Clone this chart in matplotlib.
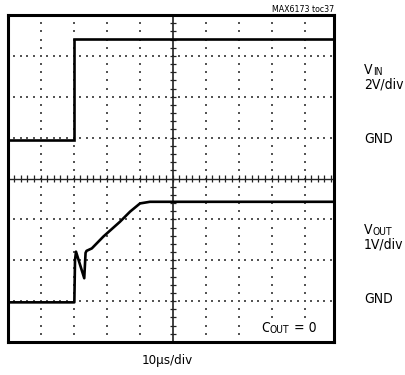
import numpy as np
import matplotlib
matplotlib.use("Agg")
import matplotlib.pyplot as plt
from matplotlib import font_manager

# pick a condensed sans if one is installed, else Liberation Sans
FONT = "Liberation Sans"
for f in font_manager.fontManager.ttflist:
    n = f.name
    if ("Narrow" in n or "Condensed" in n) and "Mono" not in n and "Serif" not in n:
        FONT = n
        break
    if str(f.stretch) in ("condensed", "semi-condensed", "extra-condensed") and "Mono" not in n:
        FONT = n
        break
plt.rcParams['font.family'] = [FONT, 'DejaVu Sans']
STRETCH = 'condensed'

# Data in scope divisions (x: 10 us/div, y: divisions of the screen)
vin_t = [0.0, 2.0, 2.0, 9.89]
vin_v = [4.94, 4.94, 7.41, 7.41]

vout_t = [0.0, 2.02, 2.04, 2.07, 2.32, 2.36, 2.39, 2.55, 2.90, 3.40, 3.71, 4.01, 4.31, 9.89]
vout_v = [0.97, 0.97, 2.0, 2.21, 1.56, 2.18, 2.23, 2.29, 2.58, 2.94, 3.19, 3.39, 3.43, 3.43]

NX_VIS, NX, NY = 9.89, 10, 8

W, H = 406, 375
fig = plt.figure(figsize=(W/100, H/100), dpi=100)
L, R, T, B = 7.7, 334, 15, 342
ax = fig.add_axes([L/W, 1-B/H, (R-L)/W, (B-T)/H])
ax.set_xlim(0, NX_VIS)
ax.set_ylim(0, NY)
ax.set_xticks([]); ax.set_yticks([])
for s in ax.spines.values():
    s.set_linewidth(2.2)
    s.set_color('black')
    s.set_zorder(5)

# dotted graticule
dot_kw = dict(s=2.2, c='#555555', marker='s', linewidths=0, zorder=1)
sub = np.arange(0, NX_VIS, 0.2)
for gy in range(1, NY):
    if gy == NY // 2:
        continue
    ax.scatter(sub, np.full_like(sub, gy), **dot_kw)
subv = np.arange(0, NY + 0.001, 0.2)
for gx in range(1, NX):
    if gx == NX // 2:
        continue
    ax.scatter(np.full_like(subv, gx), subv, **dot_kw)

# center axes with small ticks
ax.axhline(NY/2, color='#222222', lw=1.0, zorder=2)
ax.axvline(NX/2, color='#222222', lw=1.2, zorder=2)
tk = np.arange(0, NX_VIS, 0.2)
ax.vlines(tk, NY/2 - 0.075, NY/2 + 0.075, color='#222222', lw=0.9, zorder=2)
tkv = np.arange(0, NY + 0.001, 0.2)
ax.hlines(tkv, NX/2 - 0.09, NX/2 + 0.09, color='#222222', lw=0.9, zorder=2)

# traces
ax.plot(vin_t, vin_v, color='black', lw=1.9, zorder=3, solid_joinstyle='miter')
ax.plot(vout_t, vout_v, color='black', lw=1.9, zorder=3)

fig.canvas.draw()
rend = fig.canvas.get_renderer()

def ft(x, y, s, size=10, ha='left', va='baseline', **kw):
    return fig.text(x/W, 1 - y/H, s, fontsize=size, ha=ha, va=va,
                    fontstretch=STRETCH, **kw)

def subt(x, y, main, subs, size=10, subsize=7.5, drop=0.8, after=None, bg=False):
    kw = dict(bbox=dict(facecolor='white', edgecolor='none', pad=0.5)) if bg else {}
    t = ft(x, y, main, size=size, **kw)
    bb = t.get_window_extent(renderer=rend)
    s = fig.text(bb.x1/W + 0.2/W, 1 - (y + drop)/H, subs, fontsize=subsize,
                 ha='left', va='baseline', fontstretch=STRETCH, **kw)
    if after is not None:
        sb = s.get_window_extent(renderer=rend)
        fig.text(sb.x1/W, 1 - y/H, after, fontsize=size, ha='left', va='baseline',
                 fontstretch=STRETCH, **kw)

ft(334, 11.7, "MAX6173 toc37", size=6.3, ha='right')
subt(364, 74.5, "V", "IN")
ft(364, 89.0, "2V/div")
ft(364, 143.3, "GND")
subt(364, 234.5, "V", "OUT")
ft(364, 249.0, "1V/div")
ft(364, 303.3, "GND")
subt(261, 331.7, "C", "OUT", drop=1.2, after=" = 0", bg=True)
ft(167, 364, "10µs/div", size=9.5, ha='center')

fig.savefig("out.png", dpi=100)
